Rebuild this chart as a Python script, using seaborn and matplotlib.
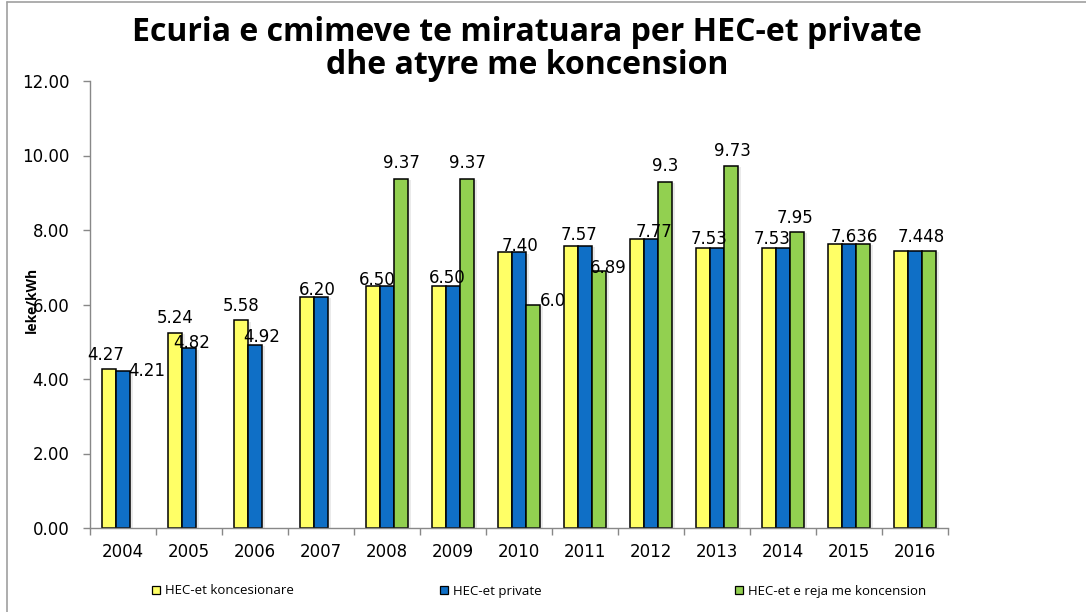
import numpy as np
import pandas as pd
import matplotlib
matplotlib.use("Agg")
import matplotlib.pyplot as plt
import matplotlib.patheffects as pe
from matplotlib.patches import Patch
from matplotlib.lines import Line2D
import seaborn as sns

# ---- data -------------------------------------------------------------
years = ["2004", "2005", "2006", "2007", "2008", "2009", "2010",
         "2011", "2012", "2013", "2014", "2015", "2016"]
hec_koncesionare = [4.27, 5.24, 5.58, 6.20, 6.50, 6.50, 7.40,
                    7.57, 7.77, 7.53, 7.53, 7.636, 7.448]
hec_private = [4.21, 4.82, 4.92, 6.20, 6.50, 6.50, 7.40,
               7.57, 7.77, 7.53, 7.53, 7.636, 7.448]
hec_reja = [np.nan, np.nan, np.nan, np.nan, 9.37, 9.37, 6.0,
            6.89, 9.3, 9.73, 7.95, 7.636, 7.448]
series_names = ["HEC-et koncesionare", "HEC-et private",
                "HEC-et e reja me koncension"]
title = "Ecuria e cmimeve te miratuara per HEC-et private\ndhe atyre me koncension"
y_label = "leke/kWh"

# ---- styling ----------------------------------------------------------
colors = ["#FFFF66", "#0F6FC6", "#92D050"]
W, H = 1086, 612

df = pd.DataFrame({
    "year": years * 3,
    "value": hec_koncesionare + hec_private + hec_reja,
    "series": np.repeat(series_names, len(years)),
})

sns.set_theme(style="white")
plt.rcParams["font.family"] = ["DejaVu Sans"]
plt.rcParams["text.color"] = "black"
plt.rcParams["xtick.color"] = "black"
plt.rcParams["ytick.color"] = "black"
plt.rcParams["axes.labelcolor"] = "black"

fig = plt.figure(figsize=(W / 100, H / 100), dpi=100)
ax = fig.add_axes([90 / W, (H - 528) / H, 858 / W, 447 / H])

sns.barplot(data=df, x="year", y="value", hue="series", order=years,
            hue_order=series_names, palette=colors, width=0.64,
            edgecolor="black", linewidth=1.1, saturation=1, dodge=True,
            errorbar=None, legend=False, ax=ax)

shadow = [pe.SimplePatchShadow(offset=(2, -1), shadow_rgbFace="#999999",
                               alpha=0.2), pe.Normal()]
bars = {}
for s, cont in enumerate(ax.containers):
    for p in cont.patches:
        p.set_path_effects(shadow)
        idx = int(round(p.get_x() + p.get_width() / 2))
        bars[(s, idx)] = p

# data labels: (series, year index, decimals, dx px, dy px)
label_specs = [
    (0, 0, 2, -3, 14), (0, 1, 2, 0, 15), (0, 2, 2, 0, 14),
    (1, 0, 2, 24, 0), (1, 1, 2, 3, 5), (1, 2, 2, 7, 8), (1, 3, 2, -4, 7),
    (1, 4, 2, -10, 6), (1, 5, 2, -6, 8), (1, 6, 2, 1, 6), (1, 7, 2, -6, 11),
    (1, 8, 2, 3, 7), (1, 9, 2, -8, 9), (1, 10, 2, -11, 9),
    (1, 11, 3, 5, 7), (1, 12, 3, 6, 14),
    (2, 4, 2, 0, 16), (2, 5, 2, 0, 16), (2, 6, 1, 20, 3), (2, 7, 2, 9, 3),
    (2, 8, 1, 0, 16), (2, 9, 2, 1, 15), (2, 10, 2, -2, 14),
]
for s, i, dec, dx, dy in label_specs:
    p = bars[(s, i)]
    v = p.get_height()
    ax.annotate(f"{v:.{dec}f}", xy=(p.get_x() + p.get_width() / 2, v),
                xytext=(dx * 0.72, dy * 0.72), textcoords="offset points",
                ha="center", va="center", fontsize=12, color="black")

# axes
ax.set_ylim(0, 12)
ax.set_xlim(-0.5, len(years) - 0.5)
ax.set_yticks(np.arange(0, 12.01, 2))
ax.set_yticklabels([f"{t:.2f}" for t in np.arange(0, 12.01, 2)])
ax.set_xticks(np.arange(-0.5, len(years), 1), minor=True)
ax.tick_params(axis="x", which="major", length=0, pad=11, labelsize=12)
ax.tick_params(axis="x", which="minor", length=5, width=1, color="#888888",
               direction="out", bottom=True)
ax.tick_params(axis="y", length=5, width=1, color="#888888", direction="out",
               left=True, pad=10, labelsize=12)
ax.set_xlabel("")
ax.set_ylabel(y_label, family=["Open Sans", "DejaVu Sans"], fontweight="bold",
              fontsize=10)
ax.yaxis.set_label_coords(-51 / 858, 0.51)
for side in ["top", "right"]:
    ax.spines[side].set_visible(False)
for side in ["left", "bottom"]:
    ax.spines[side].set_color("#888888")
    ax.spines[side].set_linewidth(1)

# title
fig.text(527 / W, 1 - 49 / H, title, ha="center", va="center",
         family=["Open Sans", "DejaVu Sans"], fontweight="bold", fontsize=23,
         linespacing=1.0, color="black")

# legend entries spread along the bottom
for name, col, x in zip(series_names, colors, [152, 440, 735]):
    h = Patch(facecolor=col, edgecolor="black", linewidth=0.9)
    fig.legend(handles=[h], labels=[name], loc="center left",
               bbox_to_anchor=(x / W, 1 - 591 / H), frameon=False,
               handlelength=0.6, handleheight=0.6, handletextpad=0.35,
               borderpad=0, borderaxespad=0,
               prop={"family": ["Open Sans", "DejaVu Sans"], "size": 9.5})

# outer frame lines of the chart area
fig.add_artist(Line2D([7 / W, 7 / W], [0, 1 - 2 / H], color="#A0A0A0", lw=1.2,
                      transform=fig.transFigure))
fig.add_artist(Line2D([7 / W, 1], [1 - 2 / H, 1 - 2 / H], color="#A0A0A0",
                      lw=1.2, transform=fig.transFigure))

fig.savefig("out.png", dpi=100)
